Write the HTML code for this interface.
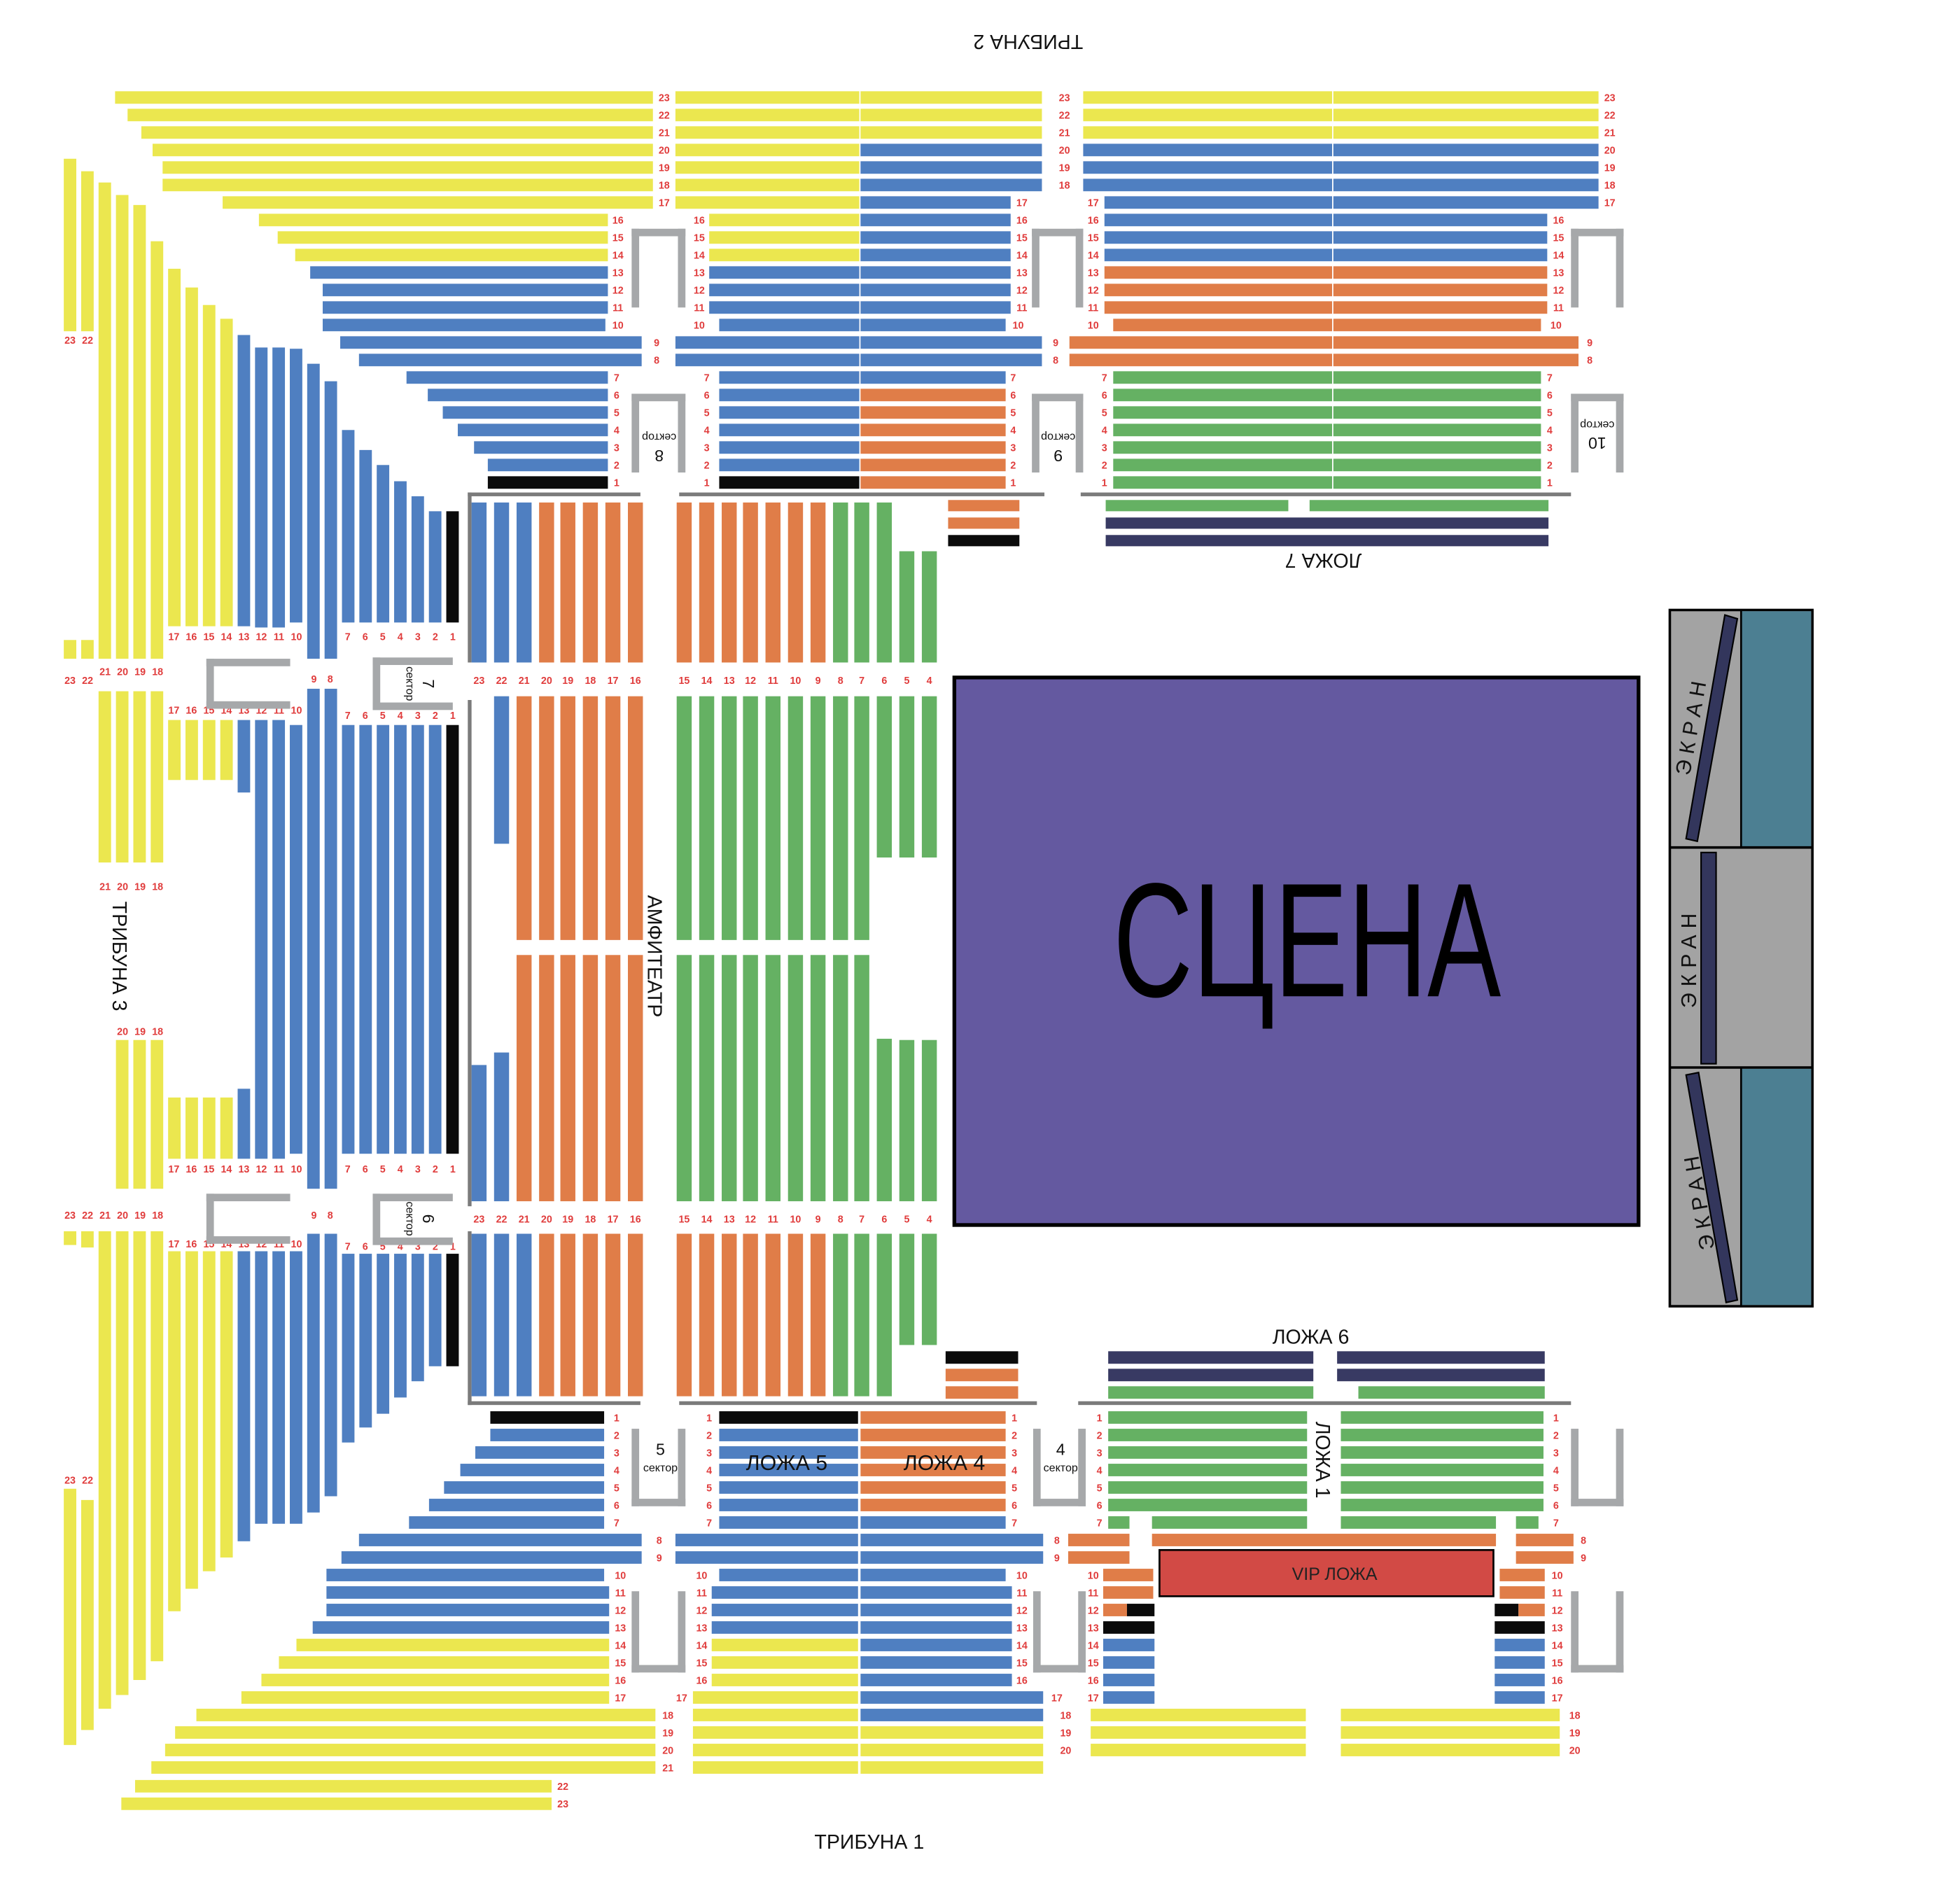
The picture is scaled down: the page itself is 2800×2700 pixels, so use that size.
<!DOCTYPE html>
<html><head><meta charset="utf-8"><style>
html,body{margin:0;padding:0;background:#fff;width:2800px;height:2700px;overflow:hidden}
svg{display:block}
.y{fill:#ebe74f}.b{fill:#4f7fc1}.o{fill:#e07d48}.g{fill:#65b163}.k{fill:#0b0b0b}.n{fill:#383a63}.gr{fill:#a6a8aa}.ln{fill:#7b7b7b}
text{font-family:"Liberation Sans",sans-serif}
.r text,text.r{fill:#e03c3c;font-size:8px;font-weight:bold;text-anchor:middle}
.t{font-size:16px;fill:#111}
</style></head><body>
<svg width="2800" height="2700" viewBox="0 0 1567 1512" preserveAspectRatio="none" xmlns="http://www.w3.org/2000/svg">
<rect width="1567" height="1512" fill="#fff"/>
<text class="t" transform="rotate(180 822 34)" x="822" y="40" text-anchor="middle" font-size="15">ТРИБУНА 2</text>
<text class="t" x="695" y="1479" text-anchor="middle" font-size="15">ТРИБУНА 1</text>
<text class="t" transform="rotate(90 96 765)" x="96" y="771" text-anchor="middle" font-size="16">ТРИБУНА 3</text>
<text class="t" transform="rotate(90 524 765)" x="524" y="771" text-anchor="middle" font-size="16">АМФИТЕАТР</text>
<text class="t" transform="rotate(180 1058 449)" x="1058" y="455" text-anchor="middle" font-size="16">ЛОЖА  7</text>
<text class="t" x="1048" y="1075" text-anchor="middle" font-size="16">ЛОЖА  6</text>
<text class="t" transform="rotate(90 1058 1168)" x="1058" y="1174" text-anchor="middle" font-size="16">ЛОЖА 1</text>

<g>
<rect class="y" x="92" y="73" width="430" height="10"/>
<rect class="y" x="102" y="87" width="420" height="10"/>
<rect class="y" x="113" y="101" width="409" height="10"/>
<rect class="y" x="122" y="115" width="400" height="10"/>
<rect class="y" x="130" y="129" width="392" height="10"/>
<rect class="y" x="130" y="143" width="392" height="10"/>
<rect class="y" x="178" y="157" width="344" height="10"/>
<rect class="y" x="207" y="171" width="279" height="10"/>
<rect class="y" x="222" y="185" width="264" height="10"/>
<rect class="y" x="236" y="199" width="250" height="10"/>
<rect class="b" x="248" y="213" width="238" height="10"/>
<rect class="b" x="258" y="227" width="228" height="10"/>
<rect class="b" x="258" y="241" width="228" height="10"/>
<rect class="b" x="258" y="255" width="226" height="10"/>
<rect class="b" x="272" y="269" width="241" height="10"/>
<rect class="b" x="287" y="283" width="226" height="10"/>
<rect class="b" x="325" y="297" width="161" height="10"/>
<rect class="b" x="342" y="311" width="144" height="10"/>
<rect class="b" x="354" y="325" width="132" height="10"/>
<rect class="b" x="366" y="339" width="120" height="10"/>
<rect class="b" x="379" y="353" width="107" height="10"/>
<rect class="b" x="390" y="367" width="96" height="10"/>
<rect class="k" x="390" y="381" width="96" height="10"/>
</g>
<g>
<rect class="y" x="540" y="73" width="147" height="10"/><rect class="y" x="688" y="73" width="145" height="10"/>
<rect class="y" x="540" y="87" width="147" height="10"/><rect class="y" x="688" y="87" width="145" height="10"/>
<rect class="y" x="540" y="101" width="147" height="10"/><rect class="y" x="688" y="101" width="145" height="10"/>
<rect class="y" x="540" y="115" width="147" height="10"/><rect class="b" x="688" y="115" width="145" height="10"/>
<rect class="y" x="540" y="129" width="147" height="10"/><rect class="b" x="688" y="129" width="145" height="10"/>
<rect class="y" x="540" y="143" width="147" height="10"/><rect class="b" x="688" y="143" width="145" height="10"/>
<rect class="y" x="540" y="157" width="147" height="10"/><rect class="b" x="688" y="157" width="120" height="10"/>
<rect class="y" x="567" y="171" width="120" height="10"/><rect class="b" x="688" y="171" width="120" height="10"/>
<rect class="y" x="567" y="185" width="120" height="10"/><rect class="b" x="688" y="185" width="120" height="10"/>
<rect class="y" x="567" y="199" width="120" height="10"/><rect class="b" x="688" y="199" width="120" height="10"/>
<rect class="b" x="567" y="213" width="120" height="10"/><rect class="b" x="688" y="213" width="120" height="10"/>
<rect class="b" x="567" y="227" width="120" height="10"/><rect class="b" x="688" y="227" width="120" height="10"/>
<rect class="b" x="567" y="241" width="120" height="10"/><rect class="b" x="688" y="241" width="120" height="10"/>
<rect class="b" x="575" y="255" width="112" height="10"/><rect class="b" x="688" y="255" width="116" height="10"/>
<rect class="b" x="540" y="269" width="147" height="10"/><rect class="b" x="688" y="269" width="145" height="10"/>
<rect class="b" x="540" y="283" width="147" height="10"/><rect class="b" x="688" y="283" width="145" height="10"/>
<rect class="b" x="575" y="297" width="112" height="10"/><rect class="b" x="688" y="297" width="116" height="10"/>
<rect class="b" x="575" y="311" width="112" height="10"/><rect class="o" x="688" y="311" width="116" height="10"/>
<rect class="b" x="575" y="325" width="112" height="10"/><rect class="o" x="688" y="325" width="116" height="10"/>
<rect class="b" x="575" y="339" width="112" height="10"/><rect class="o" x="688" y="339" width="116" height="10"/>
<rect class="b" x="575" y="353" width="112" height="10"/><rect class="o" x="688" y="353" width="116" height="10"/>
<rect class="b" x="575" y="367" width="112" height="10"/><rect class="o" x="688" y="367" width="116" height="10"/>
<rect class="k" x="575" y="381" width="112" height="10"/><rect class="o" x="688" y="381" width="116" height="10"/>
</g>
<g>
<rect class="y" x="866" y="73" width="199" height="10"/><rect class="y" x="1066" y="73" width="212" height="10"/>
<rect class="y" x="866" y="87" width="199" height="10"/><rect class="y" x="1066" y="87" width="212" height="10"/>
<rect class="y" x="866" y="101" width="199" height="10"/><rect class="y" x="1066" y="101" width="212" height="10"/>
<rect class="b" x="866" y="115" width="199" height="10"/><rect class="b" x="1066" y="115" width="212" height="10"/>
<rect class="b" x="866" y="129" width="199" height="10"/><rect class="b" x="1066" y="129" width="212" height="10"/>
<rect class="b" x="866" y="143" width="199" height="10"/><rect class="b" x="1066" y="143" width="212" height="10"/>
<rect class="b" x="883" y="157" width="182" height="10"/><rect class="b" x="1066" y="157" width="212" height="10"/>
<rect class="b" x="883" y="171" width="182" height="10"/><rect class="b" x="1066" y="171" width="171" height="10"/>
<rect class="b" x="883" y="185" width="182" height="10"/><rect class="b" x="1066" y="185" width="171" height="10"/>
<rect class="b" x="883" y="199" width="182" height="10"/><rect class="b" x="1066" y="199" width="171" height="10"/>
<rect class="o" x="883" y="213" width="182" height="10"/><rect class="o" x="1066" y="213" width="171" height="10"/>
<rect class="o" x="883" y="227" width="182" height="10"/><rect class="o" x="1066" y="227" width="171" height="10"/>
<rect class="o" x="883" y="241" width="182" height="10"/><rect class="o" x="1066" y="241" width="171" height="10"/>
<rect class="o" x="890" y="255" width="175" height="10"/><rect class="o" x="1066" y="255" width="166" height="10"/>
<rect class="o" x="855" y="269" width="210" height="10"/><rect class="o" x="1066" y="269" width="196" height="10"/>
<rect class="o" x="855" y="283" width="210" height="10"/><rect class="o" x="1066" y="283" width="196" height="10"/>
<rect class="g" x="890" y="297" width="175" height="10"/><rect class="g" x="1066" y="297" width="166" height="10"/>
<rect class="g" x="890" y="311" width="175" height="10"/><rect class="g" x="1066" y="311" width="166" height="10"/>
<rect class="g" x="890" y="325" width="175" height="10"/><rect class="g" x="1066" y="325" width="166" height="10"/>
<rect class="g" x="890" y="339" width="175" height="10"/><rect class="g" x="1066" y="339" width="166" height="10"/>
<rect class="g" x="890" y="353" width="175" height="10"/><rect class="g" x="1066" y="353" width="166" height="10"/>
<rect class="g" x="890" y="367" width="175" height="10"/><rect class="g" x="1066" y="367" width="166" height="10"/>
<rect class="g" x="890" y="381" width="175" height="10"/><rect class="g" x="1066" y="381" width="166" height="10"/>
</g>
<g class="r">
<text x="531" y="81">23</text><text x="531" y="95">22</text><text x="531" y="109">21</text><text x="531" y="123">20</text><text x="531" y="137">19</text><text x="531" y="151">18</text><text x="531" y="165">17</text>
<text x="494" y="179">16</text><text x="494" y="193">15</text><text x="494" y="207">14</text><text x="494" y="221">13</text><text x="494" y="235">12</text><text x="494" y="249">11</text><text x="494" y="263">10</text>
<text x="525" y="277">9</text><text x="525" y="291">8</text>
<text x="493" y="305">7</text><text x="493" y="319">6</text><text x="493" y="333">5</text><text x="493" y="347">4</text><text x="493" y="361">3</text><text x="493" y="375">2</text><text x="493" y="389">1</text>
<text x="559" y="179">16</text><text x="559" y="193">15</text><text x="559" y="207">14</text><text x="559" y="221">13</text><text x="559" y="235">12</text><text x="559" y="249">11</text><text x="559" y="263">10</text>
<text x="565" y="305">7</text><text x="565" y="319">6</text><text x="565" y="333">5</text><text x="565" y="347">4</text><text x="565" y="361">3</text><text x="565" y="375">2</text><text x="565" y="389">1</text>
<text x="851" y="81">23</text><text x="851" y="95">22</text><text x="851" y="109">21</text><text x="851" y="123">20</text><text x="851" y="137">19</text><text x="851" y="151">18</text>
<text x="817" y="165">17</text><text x="817" y="179">16</text><text x="817" y="193">15</text><text x="817" y="207">14</text><text x="817" y="221">13</text><text x="817" y="235">12</text><text x="817" y="249">11</text><text x="814" y="263">10</text>
<text x="844" y="277">9</text><text x="844" y="291">8</text>
<text x="810" y="305">7</text><text x="810" y="319">6</text><text x="810" y="333">5</text><text x="810" y="347">4</text><text x="810" y="361">3</text><text x="810" y="375">2</text><text x="810" y="389">1</text>
<text x="874" y="165">17</text><text x="874" y="179">16</text><text x="874" y="193">15</text><text x="874" y="207">14</text><text x="874" y="221">13</text><text x="874" y="235">12</text><text x="874" y="249">11</text><text x="874" y="263">10</text>
<text x="883" y="305">7</text><text x="883" y="319">6</text><text x="883" y="333">5</text><text x="883" y="347">4</text><text x="883" y="361">3</text><text x="883" y="375">2</text><text x="883" y="389">1</text>
<text x="1287" y="81">23</text><text x="1287" y="95">22</text><text x="1287" y="109">21</text><text x="1287" y="123">20</text><text x="1287" y="137">19</text><text x="1287" y="151">18</text><text x="1287" y="165">17</text>
<text x="1246" y="179">16</text><text x="1246" y="193">15</text><text x="1246" y="207">14</text><text x="1246" y="221">13</text><text x="1246" y="235">12</text><text x="1246" y="249">11</text><text x="1244" y="263">10</text>
<text x="1271" y="277">9</text><text x="1271" y="291">8</text>
<text x="1239" y="305">7</text><text x="1239" y="319">6</text><text x="1239" y="333">5</text><text x="1239" y="347">4</text><text x="1239" y="361">3</text><text x="1239" y="375">2</text><text x="1239" y="389">1</text>
</g>
<g class="gr">
<rect x="505" y="183" width="43" height="6"/><rect x="505" y="183" width="6" height="63"/><rect x="542" y="183" width="6" height="63"/>
<rect x="505" y="315" width="43" height="6"/><rect x="505" y="315" width="6" height="63"/><rect x="542" y="315" width="6" height="63"/>
<rect x="825" y="183" width="41" height="6"/><rect x="825" y="183" width="6" height="63"/><rect x="860" y="183" width="6" height="63"/>
<rect x="825" y="315" width="41" height="6"/><rect x="825" y="315" width="6" height="63"/><rect x="860" y="315" width="6" height="63"/>
<rect x="1256" y="183" width="42" height="6"/><rect x="1256" y="183" width="6" height="63"/><rect x="1292" y="183" width="6" height="63"/>
<rect x="1256" y="315" width="42" height="6"/><rect x="1256" y="315" width="6" height="63"/><rect x="1292" y="315" width="6" height="63"/>
</g>
<g fill="#111" text-anchor="middle">
<text transform="rotate(180 527 350)" x="527" y="353" font-size="9">сектор</text>
<text transform="rotate(180 527 365)" x="527" y="370" font-size="13">8</text>
<text transform="rotate(180 846 350)" x="846" y="353" font-size="9">сектор</text>
<text transform="rotate(180 846 365)" x="846" y="370" font-size="13">9</text>
<text transform="rotate(180 1277 340)" x="1277" y="343" font-size="9">сектор</text>
<text transform="rotate(180 1277 355)" x="1277" y="360" font-size="13">10</text>
</g>
<g class="ln">
<rect x="374" y="394" width="138" height="3"/><rect x="543" y="394" width="292" height="3"/><rect x="864" y="394" width="392" height="3"/>
<rect x="374" y="394" width="3" height="136"/><rect x="374" y="560" width="3" height="405"/><rect x="374" y="985" width="3" height="139"/>
<rect x="374" y="1121" width="138" height="3"/><rect x="543" y="1121" width="286" height="3"/><rect x="862" y="1121" width="394" height="3"/>
</g>
<rect class="o" x="758" y="400" width="57" height="9"/><rect class="o" x="758" y="414" width="57" height="9"/><rect class="k" x="758" y="428" width="57" height="9"/>
<rect class="g" x="884" y="400" width="146" height="9"/><rect class="g" x="1047" y="400" width="191" height="9"/>
<rect class="n" x="884" y="414" width="354" height="9"/><rect class="n" x="884" y="428" width="354" height="9"/>

<g>
<rect class="b" x="377" y="402" width="12" height="128"/><rect class="b" x="395" y="402" width="12" height="128"/><rect class="b" x="413" y="402" width="12" height="128"/>
<rect class="o" x="431" y="402" width="12" height="128"/><rect class="o" x="448" y="402" width="12" height="128"/><rect class="o" x="466" y="402" width="12" height="128"/><rect class="o" x="484" y="402" width="12" height="128"/><rect class="o" x="502" y="402" width="12" height="128"/>
<rect class="o" x="541" y="402" width="12" height="128"/><rect class="o" x="559" y="402" width="12" height="128"/><rect class="o" x="577" y="402" width="12" height="128"/><rect class="o" x="594" y="402" width="12" height="128"/><rect class="o" x="612" y="402" width="12" height="128"/><rect class="o" x="630" y="402" width="12" height="128"/><rect class="o" x="648" y="402" width="12" height="128"/>
<rect class="g" x="666" y="402" width="12" height="128"/><rect class="g" x="683" y="402" width="12" height="128"/><rect class="g" x="701" y="402" width="12" height="128"/>
<rect class="g" x="719" y="441" width="12" height="89"/><rect class="g" x="737" y="441" width="12" height="89"/>
<rect class="b" x="395" y="557" width="12" height="118"/>
<rect class="o" x="413" y="557" width="12" height="195"/><rect class="o" x="431" y="557" width="12" height="195"/><rect class="o" x="448" y="557" width="12" height="195"/><rect class="o" x="466" y="557" width="12" height="195"/><rect class="o" x="484" y="557" width="12" height="195"/><rect class="o" x="502" y="557" width="12" height="195"/>
<rect class="g" x="541" y="557" width="12" height="195"/><rect class="g" x="559" y="557" width="12" height="195"/><rect class="g" x="577" y="557" width="12" height="195"/><rect class="g" x="594" y="557" width="12" height="195"/><rect class="g" x="612" y="557" width="12" height="195"/><rect class="g" x="630" y="557" width="12" height="195"/><rect class="g" x="648" y="557" width="12" height="195"/><rect class="g" x="666" y="557" width="12" height="195"/><rect class="g" x="683" y="557" width="12" height="195"/>
<rect class="g" x="701" y="557" width="12" height="129"/><rect class="g" x="719" y="557" width="12" height="129"/><rect class="g" x="737" y="557" width="12" height="129"/>
<rect class="b" x="377" y="852" width="12" height="109"/><rect class="b" x="395" y="842" width="12" height="119"/>
<rect class="o" x="413" y="764" width="12" height="197"/><rect class="o" x="431" y="764" width="12" height="197"/><rect class="o" x="448" y="764" width="12" height="197"/><rect class="o" x="466" y="764" width="12" height="197"/><rect class="o" x="484" y="764" width="12" height="197"/><rect class="o" x="502" y="764" width="12" height="197"/>
<rect class="g" x="541" y="764" width="12" height="197"/><rect class="g" x="559" y="764" width="12" height="197"/><rect class="g" x="577" y="764" width="12" height="197"/><rect class="g" x="594" y="764" width="12" height="197"/><rect class="g" x="612" y="764" width="12" height="197"/><rect class="g" x="630" y="764" width="12" height="197"/><rect class="g" x="648" y="764" width="12" height="197"/><rect class="g" x="666" y="764" width="12" height="197"/><rect class="g" x="683" y="764" width="12" height="197"/>
<rect class="g" x="701" y="831" width="12" height="130"/><rect class="g" x="719" y="832" width="12" height="129"/><rect class="g" x="737" y="832" width="12" height="129"/>
<rect class="b" x="377" y="987" width="12" height="130"/><rect class="b" x="395" y="987" width="12" height="130"/><rect class="b" x="413" y="987" width="12" height="130"/>
<rect class="o" x="431" y="987" width="12" height="130"/><rect class="o" x="448" y="987" width="12" height="130"/><rect class="o" x="466" y="987" width="12" height="130"/><rect class="o" x="484" y="987" width="12" height="130"/><rect class="o" x="502" y="987" width="12" height="130"/>
<rect class="o" x="541" y="987" width="12" height="130"/><rect class="o" x="559" y="987" width="12" height="130"/><rect class="o" x="577" y="987" width="12" height="130"/><rect class="o" x="594" y="987" width="12" height="130"/><rect class="o" x="612" y="987" width="12" height="130"/><rect class="o" x="630" y="987" width="12" height="130"/><rect class="o" x="648" y="987" width="12" height="130"/>
<rect class="g" x="666" y="987" width="12" height="130"/><rect class="g" x="683" y="987" width="12" height="130"/><rect class="g" x="701" y="987" width="12" height="130"/>
<rect class="g" x="719" y="987" width="12" height="89"/><rect class="g" x="737" y="987" width="12" height="89"/>
</g>
<g class="r">
<text x="383" y="547">23</text><text x="401" y="547">22</text><text x="419" y="547">21</text><text x="437" y="547">20</text><text x="454" y="547">19</text><text x="472" y="547">18</text><text x="490" y="547">17</text><text x="508" y="547">16</text>
<text x="547" y="547">15</text><text x="565" y="547">14</text><text x="583" y="547">13</text><text x="600" y="547">12</text><text x="618" y="547">11</text><text x="636" y="547">10</text><text x="654" y="547">9</text><text x="672" y="547">8</text><text x="689" y="547">7</text><text x="707" y="547">6</text><text x="725" y="547">5</text><text x="743" y="547">4</text>
<text x="383" y="978">23</text><text x="401" y="978">22</text><text x="419" y="978">21</text><text x="437" y="978">20</text><text x="454" y="978">19</text><text x="472" y="978">18</text><text x="490" y="978">17</text><text x="508" y="978">16</text>
<text x="547" y="978">15</text><text x="565" y="978">14</text><text x="583" y="978">13</text><text x="600" y="978">12</text><text x="618" y="978">11</text><text x="636" y="978">10</text><text x="654" y="978">9</text><text x="672" y="978">8</text><text x="689" y="978">7</text><text x="707" y="978">6</text><text x="725" y="978">5</text><text x="743" y="978">4</text>
</g>

<rect x="763" y="542" width="547" height="438" fill="#6459a0" stroke="#000" stroke-width="3"/>
<text x="890" y="797" font-size="130" textLength="310" lengthAdjust="spacingAndGlyphs" fill="#000">СЦЕНА</text>

<rect x="1335" y="488" width="114" height="557" fill="#a3a3a3" stroke="#000" stroke-width="2"/>
<rect x="1392" y="489" width="56" height="189" fill="#4c7f92"/>
<rect x="1392" y="855" width="56" height="189" fill="#4c7f92"/>
<line x1="1335" y1="678" x2="1449" y2="678" stroke="#000" stroke-width="2"/>
<line x1="1335" y1="854" x2="1449" y2="854" stroke="#000" stroke-width="2"/>
<line x1="1392" y1="488" x2="1392" y2="678" stroke="#000" stroke-width="1.5"/>
<line x1="1392" y1="854" x2="1392" y2="1045" stroke="#000" stroke-width="1.5"/>
<polygon points="1379,492 1389,495 1357,673 1348,671" fill="#33365c" stroke="#000" stroke-width="1.2"/>
<rect x="1360" y="682" width="12" height="169" fill="#33365c" stroke="#000" stroke-width="1.2"/>
<polygon points="1348,860 1358,858 1389,1040 1380,1042" fill="#33365c" stroke="#000" stroke-width="1.2"/>
<g fill="#111" font-size="17" letter-spacing="5" text-anchor="middle">
<text transform="rotate(-80 1352 580)" x="1352" y="586">ЭКРАН</text>
<text transform="rotate(-90 1350 766)" x="1350" y="772">ЭКРАН</text>
<text transform="rotate(-100 1358 960)" x="1358" y="966">ЭКРАН</text>
</g>

<g>
<rect class="y" x="51" y="127" width="10" height="138"/><rect class="y" x="51" y="512" width="10" height="15"/>
<rect class="y" x="64.9" y="137" width="10" height="128"/><rect class="y" x="64.9" y="512" width="10" height="15"/>
<rect class="y" x="78.8" y="146" width="10" height="381"/>
<rect class="y" x="92.7" y="156" width="10" height="371"/>
<rect class="y" x="106.6" y="164" width="10" height="363"/>
<rect class="y" x="120.5" y="193" width="10" height="334"/>
<rect class="y" x="134.4" y="215" width="10" height="286"/>
<rect class="y" x="148.3" y="230" width="10" height="271"/>
<rect class="y" x="162.2" y="244" width="10" height="257"/>
<rect class="y" x="176.1" y="255" width="10" height="246"/>
<rect class="b" x="190" y="268" width="10" height="233"/>
<rect class="b" x="203.9" y="278" width="10" height="224"/>
<rect class="b" x="217.8" y="278" width="10" height="224"/>
<rect class="b" x="231.7" y="279" width="10" height="219"/>
<rect class="b" x="245.6" y="291" width="10" height="236"/>
<rect class="b" x="259.5" y="305" width="10" height="222"/>
<rect class="b" x="273.4" y="344" width="10" height="154"/>
<rect class="b" x="287.3" y="360" width="10" height="138"/>
<rect class="b" x="301.2" y="372" width="10" height="126"/>
<rect class="b" x="315.1" y="385" width="10" height="113"/>
<rect class="b" x="329" y="397" width="10" height="101"/>
<rect class="b" x="342.9" y="409" width="10" height="89"/>
<rect class="k" x="356.8" y="409" width="10" height="89"/>
</g>
<g>
<rect class="y" x="78.8" y="553" width="10" height="137"/><rect class="y" x="92.7" y="553" width="10" height="137"/><rect class="y" x="106.6" y="553" width="10" height="137"/><rect class="y" x="120.5" y="553" width="10" height="137"/>
<rect class="y" x="134.4" y="576" width="10" height="48"/><rect class="y" x="148.3" y="576" width="10" height="48"/><rect class="y" x="162.2" y="576" width="10" height="48"/><rect class="y" x="176.1" y="576" width="10" height="48"/>
<rect class="b" x="190" y="576" width="10" height="58"/>
<rect class="b" x="203.9" y="576" width="10" height="351"/><rect class="b" x="217.8" y="576" width="10" height="351"/>
<rect class="b" x="231.7" y="580" width="10" height="343"/>
<rect class="b" x="245.6" y="551" width="10" height="400"/><rect class="b" x="259.5" y="551" width="10" height="400"/>
<rect class="b" x="273.4" y="580" width="10" height="343"/><rect class="b" x="287.3" y="580" width="10" height="343"/><rect class="b" x="301.2" y="580" width="10" height="343"/><rect class="b" x="315.1" y="580" width="10" height="343"/><rect class="b" x="329" y="580" width="10" height="343"/><rect class="b" x="342.9" y="580" width="10" height="343"/>
<rect class="k" x="356.8" y="580" width="10" height="343"/>
<rect class="y" x="92.7" y="832" width="10" height="119"/><rect class="y" x="106.6" y="832" width="10" height="119"/><rect class="y" x="120.5" y="832" width="10" height="119"/>
<rect class="y" x="134.4" y="878" width="10" height="49"/><rect class="y" x="148.3" y="878" width="10" height="49"/><rect class="y" x="162.2" y="878" width="10" height="49"/><rect class="y" x="176.1" y="878" width="10" height="49"/>
<rect class="b" x="190" y="871" width="10" height="56"/>
</g>
<g>
<rect class="y" x="51" y="985" width="10" height="11"/><rect class="y" x="51" y="1191" width="10" height="205"/>
<rect class="y" x="64.9" y="985" width="10" height="13"/><rect class="y" x="64.9" y="1200" width="10" height="184"/>
<rect class="y" x="78.8" y="985" width="10" height="382"/>
<rect class="y" x="92.7" y="985" width="10" height="371"/>
<rect class="y" x="106.6" y="985" width="10" height="359"/>
<rect class="y" x="120.5" y="985" width="10" height="344"/>
<rect class="y" x="134.4" y="1001" width="10" height="288"/>
<rect class="y" x="148.3" y="1001" width="10" height="270"/>
<rect class="y" x="162.2" y="1001" width="10" height="256"/>
<rect class="y" x="176.1" y="1001" width="10" height="245"/>
<rect class="b" x="190" y="1001" width="10" height="232"/>
<rect class="b" x="203.9" y="1001" width="10" height="218"/>
<rect class="b" x="217.8" y="1001" width="10" height="218"/>
<rect class="b" x="231.7" y="1001" width="10" height="218"/>
<rect class="b" x="245.6" y="987" width="10" height="223"/>
<rect class="b" x="259.5" y="987" width="10" height="210"/>
<rect class="b" x="273.4" y="1003" width="10" height="151"/>
<rect class="b" x="287.3" y="1003" width="10" height="139"/>
<rect class="b" x="301.2" y="1003" width="10" height="128"/>
<rect class="b" x="315.1" y="1003" width="10" height="115"/>
<rect class="b" x="329" y="1003" width="10" height="102"/>
<rect class="b" x="342.9" y="1003" width="10" height="90"/>
<rect class="k" x="356.8" y="1003" width="10" height="90"/>
</g>
<g class="r">
<text x="56" y="275">23</text><text x="70" y="275">22</text>
<text x="139" y="512">17</text><text x="153" y="512">16</text><text x="167" y="512">15</text><text x="181" y="512">14</text><text x="195" y="512">13</text><text x="209" y="512">12</text><text x="223" y="512">11</text><text x="237" y="512">10</text>
<text x="278" y="512">7</text><text x="292" y="512">6</text><text x="306" y="512">5</text><text x="320" y="512">4</text><text x="334" y="512">3</text><text x="348" y="512">2</text><text x="362" y="512">1</text>
<text x="56" y="547">23</text><text x="70" y="547">22</text><text x="84" y="540">21</text><text x="98" y="540">20</text><text x="112" y="540">19</text><text x="126" y="540">18</text><text x="251" y="546">9</text><text x="264" y="546">8</text>
<text x="139" y="571">17</text><text x="153" y="571">16</text><text x="167" y="571">15</text><text x="181" y="571">14</text><text x="195" y="571">13</text><text x="209" y="571">12</text><text x="223" y="571">11</text><text x="237" y="571">10</text>
<text x="278" y="575">7</text><text x="292" y="575">6</text><text x="306" y="575">5</text><text x="320" y="575">4</text><text x="334" y="575">3</text><text x="348" y="575">2</text><text x="362" y="575">1</text>
<text x="84" y="712">21</text><text x="98" y="712">20</text><text x="112" y="712">19</text><text x="126" y="712">18</text>
<text x="98" y="828">20</text><text x="112" y="828">19</text><text x="126" y="828">18</text>
<text x="139" y="938">17</text><text x="153" y="938">16</text><text x="167" y="938">15</text><text x="181" y="938">14</text><text x="195" y="938">13</text><text x="209" y="938">12</text><text x="223" y="938">11</text><text x="237" y="938">10</text>
<text x="278" y="938">7</text><text x="292" y="938">6</text><text x="306" y="938">5</text><text x="320" y="938">4</text><text x="334" y="938">3</text><text x="348" y="938">2</text><text x="362" y="938">1</text>
<text x="56" y="975">23</text><text x="70" y="975">22</text><text x="84" y="975">21</text><text x="98" y="975">20</text><text x="112" y="975">19</text><text x="126" y="975">18</text><text x="251" y="975">9</text><text x="264" y="975">8</text>
<text x="139" y="998">17</text><text x="153" y="998">16</text><text x="167" y="998">15</text><text x="181" y="998">14</text><text x="195" y="998">13</text><text x="209" y="998">12</text><text x="223" y="998">11</text><text x="237" y="998">10</text>
<text x="278" y="1000">7</text><text x="292" y="1000">6</text><text x="306" y="1000">5</text><text x="320" y="1000">4</text><text x="334" y="1000">3</text><text x="348" y="1000">2</text><text x="362" y="1000">1</text>
<text x="56" y="1187">23</text><text x="70" y="1187">22</text>
</g>
<g class="gr">
<rect x="165" y="527" width="67" height="6"/><rect x="165" y="561" width="67" height="6"/><rect x="165" y="527" width="6" height="40"/>
<rect x="298" y="526" width="64" height="6"/><rect x="298" y="562" width="64" height="6"/><rect x="298" y="526" width="6" height="42"/>
<rect x="165" y="955" width="67" height="6"/><rect x="165" y="989" width="67" height="6"/><rect x="165" y="955" width="6" height="40"/>
<rect x="298" y="955" width="64" height="6"/><rect x="298" y="990" width="64" height="6"/><rect x="298" y="955" width="6" height="41"/>
</g>
<g fill="#111" text-anchor="middle">
<text transform="rotate(90 328 547)" x="328" y="550" font-size="9">сектор</text>
<text transform="rotate(90 343 547)" x="343" y="552" font-size="13">7</text>
<text transform="rotate(90 328 975)" x="328" y="978" font-size="9">сектор</text>
<text transform="rotate(90 343 975)" x="343" y="980" font-size="13">6</text>
</g>

<rect class="k" x="756" y="1081" width="58" height="10"/><rect class="o" x="756" y="1095" width="58" height="10"/><rect class="o" x="756" y="1109" width="58" height="10"/>
<rect class="n" x="886" y="1081" width="164" height="10"/><rect class="n" x="1069" y="1081" width="166" height="10"/>
<rect class="n" x="886" y="1095" width="164" height="10"/><rect class="n" x="1069" y="1095" width="166" height="10"/>
<rect class="g" x="886" y="1109" width="164" height="10"/><rect class="g" x="1086" y="1109" width="149" height="10"/>

<g>
<rect class="k" x="392" y="1129" width="91" height="10"/>
<rect class="b" x="392" y="1143" width="91" height="10"/>
<rect class="b" x="380" y="1157" width="103" height="10"/>
<rect class="b" x="368" y="1171" width="115" height="10"/>
<rect class="b" x="355" y="1185" width="128" height="10"/>
<rect class="b" x="343" y="1199" width="140" height="10"/>
<rect class="b" x="327" y="1213" width="156" height="10"/>
<rect class="b" x="287" y="1227" width="226" height="10"/>
<rect class="b" x="273" y="1241" width="240" height="10"/>
<rect class="b" x="261" y="1255" width="222" height="10"/>
<rect class="b" x="261" y="1269" width="226" height="10"/>
<rect class="b" x="261" y="1283" width="226" height="10"/>
<rect class="b" x="250" y="1297" width="237" height="10"/>
<rect class="y" x="237" y="1311" width="250" height="10"/>
<rect class="y" x="223" y="1325" width="264" height="10"/>
<rect class="y" x="209" y="1339" width="278" height="10"/>
<rect class="y" x="193" y="1353" width="294" height="10"/>
<rect class="y" x="157" y="1367" width="367" height="10"/>
<rect class="y" x="140" y="1381" width="384" height="10"/>
<rect class="y" x="132" y="1395" width="392" height="10"/>
<rect class="y" x="121" y="1409" width="403" height="10"/>
<rect class="y" x="108" y="1424" width="333" height="10"/>
<rect class="y" x="97" y="1438" width="344" height="10"/>
</g>
<g>
<rect class="k" x="575" y="1129" width="111" height="10"/><rect class="o" x="688" y="1129" width="116" height="10"/>
<rect class="b" x="575" y="1143" width="111" height="10"/><rect class="o" x="688" y="1143" width="116" height="10"/>
<rect class="b" x="575" y="1157" width="111" height="10"/><rect class="o" x="688" y="1157" width="116" height="10"/>
<rect class="b" x="575" y="1171" width="111" height="10"/><rect class="o" x="688" y="1171" width="116" height="10"/>
<rect class="b" x="575" y="1185" width="111" height="10"/><rect class="o" x="688" y="1185" width="116" height="10"/>
<rect class="b" x="575" y="1199" width="111" height="10"/><rect class="o" x="688" y="1199" width="116" height="10"/>
<rect class="b" x="575" y="1213" width="111" height="10"/><rect class="b" x="688" y="1213" width="116" height="10"/>
<rect class="b" x="540" y="1227" width="146" height="10"/><rect class="b" x="688" y="1227" width="146" height="10"/>
<rect class="b" x="540" y="1241" width="146" height="10"/><rect class="b" x="688" y="1241" width="146" height="10"/>
<rect class="b" x="575" y="1255" width="111" height="10"/><rect class="b" x="688" y="1255" width="116" height="10"/>
<rect class="b" x="569" y="1269" width="117" height="10"/><rect class="b" x="688" y="1269" width="121" height="10"/>
<rect class="b" x="569" y="1283" width="117" height="10"/><rect class="b" x="688" y="1283" width="121" height="10"/>
<rect class="b" x="569" y="1297" width="117" height="10"/><rect class="b" x="688" y="1297" width="121" height="10"/>
<rect class="y" x="569" y="1311" width="117" height="10"/><rect class="b" x="688" y="1311" width="121" height="10"/>
<rect class="y" x="569" y="1325" width="117" height="10"/><rect class="b" x="688" y="1325" width="121" height="10"/>
<rect class="y" x="569" y="1339" width="117" height="10"/><rect class="b" x="688" y="1339" width="121" height="10"/>
<rect class="y" x="554" y="1353" width="132" height="10"/><rect class="b" x="688" y="1353" width="146" height="10"/>
<rect class="y" x="554" y="1367" width="132" height="10"/><rect class="b" x="688" y="1367" width="146" height="10"/>
<rect class="y" x="554" y="1381" width="132" height="10"/><rect class="y" x="688" y="1381" width="146" height="10"/>
<rect class="y" x="554" y="1395" width="132" height="10"/><rect class="y" x="688" y="1395" width="146" height="10"/>
<rect class="y" x="554" y="1409" width="132" height="10"/><rect class="y" x="688" y="1409" width="146" height="10"/>
</g>
<g>
<rect class="g" x="886" y="1129" width="159" height="10"/><rect class="g" x="1072" y="1129" width="162" height="10"/>
<rect class="g" x="886" y="1143" width="159" height="10"/><rect class="g" x="1072" y="1143" width="162" height="10"/>
<rect class="g" x="886" y="1157" width="159" height="10"/><rect class="g" x="1072" y="1157" width="162" height="10"/>
<rect class="g" x="886" y="1171" width="159" height="10"/><rect class="g" x="1072" y="1171" width="162" height="10"/>
<rect class="g" x="886" y="1185" width="159" height="10"/><rect class="g" x="1072" y="1185" width="162" height="10"/>
<rect class="g" x="886" y="1199" width="159" height="10"/><rect class="g" x="1072" y="1199" width="162" height="10"/>
<rect class="g" x="886" y="1213" width="17" height="10"/><rect class="g" x="921" y="1213" width="124" height="10"/><rect class="g" x="1072" y="1213" width="124" height="10"/><rect class="g" x="1212" y="1213" width="18" height="10"/>
<rect class="o" x="854" y="1227" width="49" height="10"/><rect class="o" x="921" y="1227" width="275" height="10"/><rect class="o" x="1212" y="1227" width="46" height="10"/>
<rect class="o" x="854" y="1241" width="49" height="10"/><rect class="o" x="1212" y="1241" width="46" height="10"/>
<rect class="o" x="882" y="1255" width="40" height="10"/><rect class="o" x="1199" y="1255" width="36" height="10"/>
<rect class="o" x="882" y="1269" width="40" height="10"/><rect class="o" x="1199" y="1269" width="36" height="10"/>
<rect class="o" x="882" y="1283" width="19" height="10"/><rect class="k" x="901" y="1283" width="22" height="10"/><rect class="k" x="1195" y="1283" width="19" height="10"/><rect class="o" x="1214" y="1283" width="21" height="10"/>
<rect class="k" x="882" y="1297" width="41" height="10"/><rect class="k" x="1195" y="1297" width="40" height="10"/>
<rect class="b" x="882" y="1311" width="41" height="10"/><rect class="b" x="1195" y="1311" width="40" height="10"/>
<rect class="b" x="882" y="1325" width="41" height="10"/><rect class="b" x="1195" y="1325" width="40" height="10"/>
<rect class="b" x="882" y="1339" width="41" height="10"/><rect class="b" x="1195" y="1339" width="40" height="10"/>
<rect class="b" x="882" y="1353" width="41" height="10"/><rect class="b" x="1195" y="1353" width="40" height="10"/>
<rect class="y" x="872" y="1367" width="172" height="10"/><rect class="y" x="1072" y="1367" width="175" height="10"/>
<rect class="y" x="872" y="1381" width="172" height="10"/><rect class="y" x="1072" y="1381" width="175" height="10"/>
<rect class="y" x="872" y="1395" width="172" height="10"/><rect class="y" x="1072" y="1395" width="175" height="10"/>
</g>
<rect x="927" y="1240" width="267" height="37" fill="#d24a45" stroke="#000" stroke-width="1.5"/>
<text x="1067" y="1264" font-size="14" text-anchor="middle" fill="#222">VIP ЛОЖА</text>
<text x="629" y="1176" font-size="17" text-anchor="middle" fill="#111">ЛОЖА 5</text>
<text x="755" y="1176" font-size="17" text-anchor="middle" fill="#111">ЛОЖА 4</text>

<g class="gr">
<rect x="505" y="1143" width="6" height="62"/><rect x="542" y="1143" width="6" height="62"/><rect x="505" y="1199" width="43" height="6"/>
<rect x="505" y="1273" width="6" height="65"/><rect x="542" y="1273" width="6" height="65"/><rect x="505" y="1332" width="43" height="6"/>
<rect x="826" y="1143" width="6" height="62"/><rect x="862" y="1143" width="6" height="62"/><rect x="826" y="1199" width="42" height="6"/>
<rect x="826" y="1273" width="6" height="65"/><rect x="862" y="1273" width="6" height="65"/><rect x="826" y="1332" width="42" height="6"/>
<rect x="1256" y="1143" width="6" height="62"/><rect x="1292" y="1143" width="6" height="62"/><rect x="1256" y="1199" width="42" height="6"/>
<rect x="1256" y="1273" width="6" height="65"/><rect x="1292" y="1273" width="6" height="65"/><rect x="1256" y="1332" width="42" height="6"/>
</g>
<g fill="#111" text-anchor="middle">
<text x="528" y="1164" font-size="13">5</text><text x="528" y="1177" font-size="9">сектор</text>
<text x="848" y="1164" font-size="13">4</text><text x="848" y="1177" font-size="9">сектор</text>
</g>
<g class="r">
<text x="493" y="1137">1</text><text x="493" y="1151">2</text><text x="493" y="1165">3</text><text x="493" y="1179">4</text><text x="493" y="1193">5</text><text x="493" y="1207">6</text><text x="493" y="1221">7</text>
<text x="527" y="1235">8</text><text x="527" y="1249">9</text>
<text x="496" y="1263">10</text><text x="496" y="1277">11</text><text x="496" y="1291">12</text><text x="496" y="1305">13</text><text x="496" y="1319">14</text><text x="496" y="1333">15</text><text x="496" y="1347">16</text><text x="496" y="1361">17</text>
<text x="534" y="1375">18</text><text x="534" y="1389">19</text><text x="534" y="1403">20</text><text x="534" y="1417">21</text>
<text x="450" y="1432">22</text><text x="450" y="1446">23</text>
<text x="567" y="1137">1</text><text x="567" y="1151">2</text><text x="567" y="1165">3</text><text x="567" y="1179">4</text><text x="567" y="1193">5</text><text x="567" y="1207">6</text><text x="567" y="1221">7</text>
<text x="561" y="1263">10</text><text x="561" y="1277">11</text><text x="561" y="1291">12</text><text x="561" y="1305">13</text><text x="561" y="1319">14</text><text x="561" y="1333">15</text><text x="561" y="1347">16</text><text x="545" y="1361">17</text>
<text x="811" y="1137">1</text><text x="811" y="1151">2</text><text x="811" y="1165">3</text><text x="811" y="1179">4</text><text x="811" y="1193">5</text><text x="811" y="1207">6</text><text x="811" y="1221">7</text>
<text x="845" y="1235">8</text><text x="845" y="1249">9</text>
<text x="817" y="1263">10</text><text x="817" y="1277">11</text><text x="817" y="1291">12</text><text x="817" y="1305">13</text><text x="817" y="1319">14</text><text x="817" y="1333">15</text><text x="817" y="1347">16</text><text x="845" y="1361">17</text>
<text x="852" y="1375">18</text><text x="852" y="1389">19</text><text x="852" y="1403">20</text>
<text x="879" y="1137">1</text><text x="879" y="1151">2</text><text x="879" y="1165">3</text><text x="879" y="1179">4</text><text x="879" y="1193">5</text><text x="879" y="1207">6</text><text x="879" y="1221">7</text>
<text x="874" y="1263">10</text><text x="874" y="1277">11</text><text x="874" y="1291">12</text><text x="874" y="1305">13</text><text x="874" y="1319">14</text><text x="874" y="1333">15</text><text x="874" y="1347">16</text><text x="874" y="1361">17</text>
<text x="1244" y="1137">1</text><text x="1244" y="1151">2</text><text x="1244" y="1165">3</text><text x="1244" y="1179">4</text><text x="1244" y="1193">5</text><text x="1244" y="1207">6</text><text x="1244" y="1221">7</text>
<text x="1266" y="1235">8</text><text x="1266" y="1249">9</text>
<text x="1245" y="1263">10</text><text x="1245" y="1277">11</text><text x="1245" y="1291">12</text><text x="1245" y="1305">13</text><text x="1245" y="1319">14</text><text x="1245" y="1333">15</text><text x="1245" y="1347">16</text><text x="1245" y="1361">17</text>
<text x="1259" y="1375">18</text><text x="1259" y="1389">19</text><text x="1259" y="1403">20</text>
</g>
</svg>
</body></html>
